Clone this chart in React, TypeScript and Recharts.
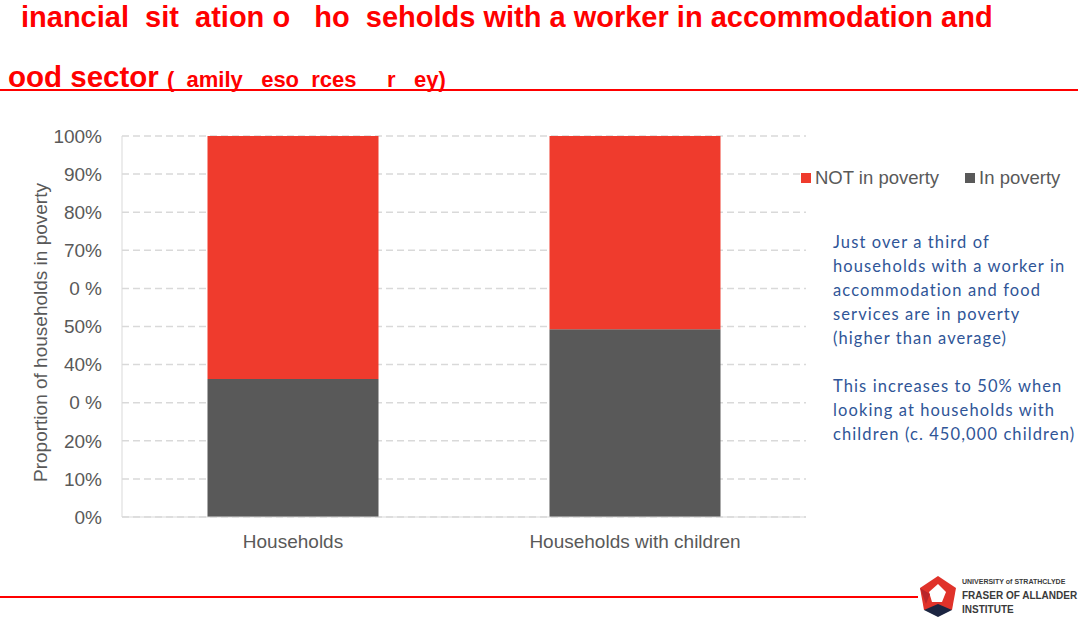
import React from 'react';
import { BarChart, Bar, XAxis, YAxis, CartesianGrid, Legend } from 'recharts';

// categories and values
const categories = ['Households', 'Households with children'];
const inPoverty = [0.362, 0.493];
const notInPoverty = [0.638, 0.507];
const yTicks = [0, 0.1, 0.2, 0.3, 0.4, 0.5, 0.6, 0.7, 0.8, 0.9, 1];
// tick labels as printed (some digits are missing in the source)
const yTickLabels = ['0%', '10%', '20%', '0 %', '40%', '50%', '0 %', '70%', '80%', '90%', '100%'];
const noteLines1 = [
  'Just over a third of',
  'households with a worker in',
  'accommodation and food',
  'services are in poverty',
  '(higher than average)',
];
const noteLines2 = [
  'This increases to 50% when',
  'looking at households with',
  'children (c. 450,000 children)',
];

const RED = '#ef3b2d';
const DARK = '#595959';
const GREY_TEXT = '#595959';
const ARIAL = '"Liberation Sans", Arial, sans-serif';

const data = categories.map((name, i) => ({
  name,
  inPoverty: inPoverty[i],
  notInPoverty: notInPoverty[i],
}));

const LegendContent = (props: any) => {
  const items = [...(props.payload || [])].reverse();
  return (
    <div style={{ display: 'flex', alignItems: 'center', width: 280, whiteSpace: 'nowrap', fontFamily: ARIAL, fontSize: 18.5, color: GREY_TEXT }}>
      {items.map((it: any, i: number) => (
        <div key={i} style={{ display: 'flex', alignItems: 'center', flexShrink: 0, marginRight: 26 }}>
          <span style={{ width: 10, height: 10, background: it.color, display: 'inline-block', marginRight: 4 }}></span>
          <span>{it.value}</span>
        </div>
      ))}
    </div>
  );
};

const Logo = () => (
  <div style={{ position: 'absolute', left: 916, top: 574, width: 162, height: 45, overflow: 'hidden' }}>
    <svg width={162} height={45} style={{ position: 'absolute', left: 0, top: 0 }}>
      <polygon points="22,2 40,14 36,36 8,36 4,14" fill="#e0322a" />
      <polygon points="22,10 30,18 26,28 16,28 13,18" fill="#ffffff" />
      <polygon points="8,36 22,30 36,36 22,43" fill="#1c2541" />
      <polygon points="4,14 14,20 10,30" fill="#b9262b" />
      <g fontFamily={ARIAL} fontWeight={700} fill="#3a3a3a">
        <text x={46} y={10} fontSize={7}>UNIVERSITY of STRATHCLYDE</text>
        <text x={46} y={25} fontSize={10}>FRASER OF ALLANDER</text>
        <text x={46} y={39} fontSize={10}>INSTITUTE</text>
      </g>
    </svg>
  </div>
);

export default function App() {
  return (
    <div style={{ position: 'absolute', left: 0, top: 0, width: 1078, height: 619, background: '#ffffff', overflow: 'hidden' }}>
      {/* title */}
      <div style={{ position: 'absolute', left: 21, top: 0, whiteSpace: 'pre', fontFamily: ARIAL, fontWeight: 700, color: '#ff0000', fontSize: 29, lineHeight: '34px' }}>
        {'inancial  sit  ation o   ho  seholds with a worker in accommodation and'}
      </div>
      <div style={{ position: 'absolute', left: 8, top: 60, whiteSpace: 'pre', fontFamily: ARIAL, fontWeight: 700, color: '#ff0000', lineHeight: '34px' }}>
        <span style={{ fontSize: 29.5 }}>{'ood sector '}</span>
        <span style={{ fontSize: 22 }}>{'(  amily   eso  rces     r   ey)'}</span>
      </div>
      <div style={{ position: 'absolute', left: 0, top: 89, width: 1078, height: 2, background: '#ff0000' }}></div>
      <div style={{ position: 'absolute', left: 0, top: 596, width: 918, height: 2, background: '#ff0000' }}></div>

      <div style={{ position: 'absolute', left: 0, top: 0 }}>
        <BarChart
          width={1078}
          height={619}
          data={data}
          margin={{ top: 136, right: 272, bottom: 72, left: 62 }}
          barCategoryGap="25%"
        >
          <CartesianGrid vertical={false} stroke="#d9d9d9" strokeDasharray="7 4" strokeWidth={1.5} />
          <XAxis
            dataKey="name"
            height={30}
            axisLine={{ stroke: '#d9d9d9' }}
            tickLine={false}
            tickMargin={12}
            tick={{ fill: GREY_TEXT, fontSize: 19, fontFamily: ARIAL }}
          />
          <YAxis
            width={60}
            domain={[0, 1]}
            ticks={yTicks}
            interval={0}
            axisLine={{ stroke: '#d9d9d9' }}
            tickLine={false}
            tickMargin={14}
            tickFormatter={(v: number) => yTickLabels[Math.round(v * 10)]}
            tick={{ fill: GREY_TEXT, fontSize: 19, fontFamily: ARIAL }}
            label={{
              value: 'Proportion of households in poverty',
              angle: -90,
              position: 'insideLeft',
              dx: -27,
              dy: 6,
              style: { fill: GREY_TEXT, fontSize: 19, fontFamily: ARIAL, textAnchor: 'middle' },
            }}
          />
          <Legend
            verticalAlign="middle"
            content={<LegendContent />}
            wrapperStyle={{ position: 'absolute', left: 801, top: 167, width: 280 }}
          />
          <Bar dataKey="inPoverty" name="In poverty" stackId="a" fill={DARK} isAnimationActive={false} />
          <Bar dataKey="notInPoverty" name="NOT in poverty" stackId="a" fill={RED} isAnimationActive={false} />
        </BarChart>
      </div>

      {/* annotation */}
      <div style={{ position: 'absolute', left: 833, top: 230, fontFamily: 'Lato, "Open Sans", sans-serif', fontSize: 16.5, color: '#2f5597', lineHeight: '24px', letterSpacing: 1.1, whiteSpace: 'nowrap' }}>
        {noteLines1.map((l, i) => <div key={i}>{l}</div>)}
        <div style={{ height: 24 }}></div>
        {noteLines2.map((l, i) => <div key={i}>{l}</div>)}
      </div>

      <Logo />
    </div>
  );
}
